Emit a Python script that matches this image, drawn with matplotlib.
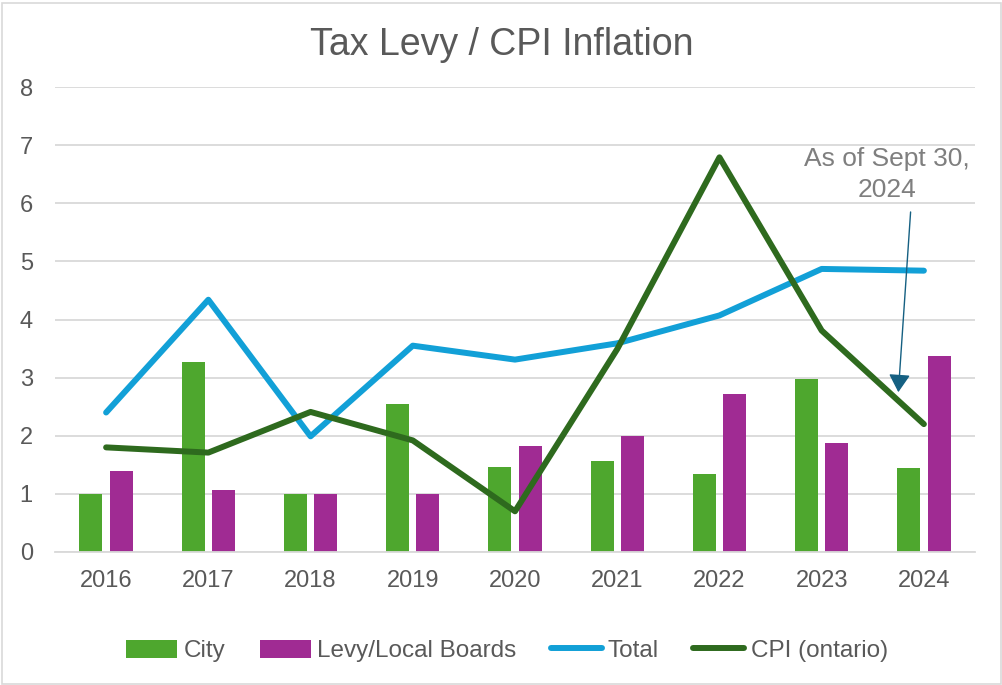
import numpy as np
import matplotlib
matplotlib.use('Agg')
import matplotlib.pyplot as plt
from matplotlib.patches import Rectangle

plt.rcParams['font.family'] = ['Liberation Sans', 'DejaVu Sans']

# values
years = ['2016', '2017', '2018', '2019', '2020', '2021', '2022', '2023', '2024']
city = [1.00, 3.27, 0.99, 2.55, 1.46, 1.57, 1.35, 2.98, 1.44]
levy = [1.39, 1.07, 0.99, 0.99, 1.83, 2.00, 2.72, 1.87, 3.38]
total = [2.40, 4.34, 1.99, 3.55, 3.31, 3.59, 4.07, 4.87, 4.84]
cpi = [1.80, 1.71, 2.41, 1.92, 0.70, 3.49, 6.79, 3.81, 2.20]

c_city = '#4EA72E'
c_levy = '#A02B93'
c_total = '#12A0D7'
c_cpi = '#2E6A1E'
grey_txt = '#595959'
grid_c = '#D9D9D9'

fig = plt.figure(figsize=(10.03, 6.85), dpi=100)
ax = fig.add_axes([55 / 1003, 1 - 552 / 685, 920 / 1003, 465 / 685])

x = np.arange(len(years))
bw = 0.225
off = 0.148
ax.bar(x - off, city, width=bw, color=c_city, label='City', zorder=2)
ax.bar(x + off, levy, width=bw, color=c_levy, label='Levy/Local Boards', zorder=2)
ax.plot(x, total, color=c_total, lw=4.3, label='Total', zorder=3,
        solid_capstyle='round', solid_joinstyle='round')
ax.plot(x, cpi, color=c_cpi, lw=4.3, label='CPI (ontario)', zorder=4,
        solid_capstyle='round', solid_joinstyle='round')

ax.set_xlim(-0.5, len(years) - 0.5)
ax.set_ylim(0, 8)
ax.set_yticks(range(0, 9))
ax.set_xticks(x)
ax.set_xticklabels(years)
ax.tick_params(axis='both', length=0, labelsize=17, colors=grey_txt)
ax.tick_params(axis='y', pad=16)
ax.tick_params(axis='x', pad=13)
ax.grid(axis='y', color=grid_c, lw=1.3, zorder=0)
for s in ['top', 'right', 'left']:
    ax.spines[s].set_visible(False)
ax.spines['bottom'].set_color(grid_c)
ax.spines['bottom'].set_linewidth(1.3)

# note about 2024 figures
ax.text(7.64, 6.50, 'As of Sept 30,\n2024', ha='center', va='center',
        fontsize=19, color='#7F7F7F', linespacing=1.35)
ax.annotate('', xy=(7.75, 2.75), xytext=(7.87, 5.85),
            arrowprops=dict(arrowstyle='-|>,head_length=0.5,head_width=0.3',
                            color='#156082', lw=1, shrinkA=0, shrinkB=0,
                            mutation_scale=22), zorder=5)

fig.text(502 / 1003, 1 - 45 / 685, 'Tax Levy / CPI Inflation', ha='center',
         va='center', fontsize=27, color=grey_txt)

h, l = ax.get_legend_handles_labels()
order = [2, 3, 0, 1]
fig.legend([h[i] for i in order], [l[i] for i in order], loc='center',
           bbox_to_anchor=(507 / 1003, 1 - 651 / 685), ncol=4, frameon=False,
           fontsize=17.5, labelcolor=grey_txt, handlelength=2.1,
           handleheight=0.8, handletextpad=0.25, columnspacing=1.42)

fig.patches.append(Rectangle((0.002, 0.002), 0.996, 0.994, transform=fig.transFigure,
                             fill=False, edgecolor=grid_c, lw=1.2))

fig.savefig('out.png', dpi=100)
